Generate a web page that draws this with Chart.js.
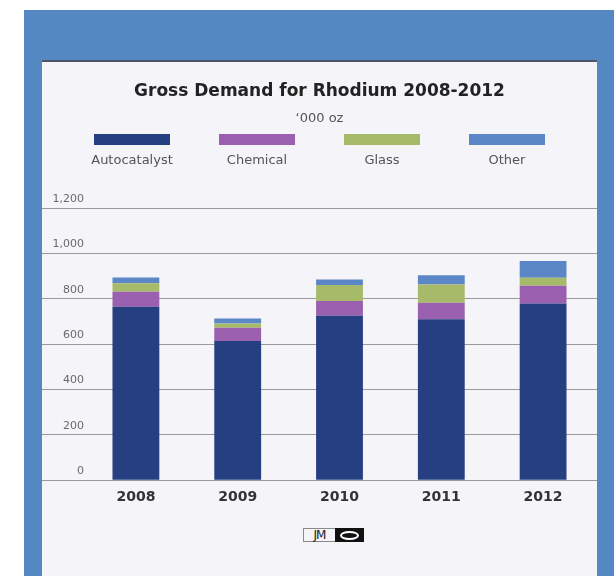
<!DOCTYPE html>
<html>
<head>
<meta charset="utf-8">
<script src="https://cdn.jsdelivr.net/npm/chart.js@4/dist/chart.umd.min.js"></script>
<style>
  html, body { margin: 0; padding: 0; background: #fff; }
  body { width: 614px; height: 576px; position: relative; overflow: hidden; }
  #frame { position: absolute; left: 24px; top: 10px; right: 0; bottom: 0; background: #5488c3; }
  #panel { position: absolute; left: 42px; top: 60px; width: 555px; height: 516px; background: #f4f4f9; }
  #panel::before { content: ''; position: absolute; left: 0; right: 0; top: 0; height: 2px; background: #4d5566; }
  #chart { position: absolute; left: 0; top: 0; }
  #logo { position: absolute; left: 261px; top: 468px; height: 14px; display: flex; }
  #logo .jm { box-sizing: border-box; width: 32px; height: 14px; border: 1px solid #8a8a8a; border-right: none;
              font: 12px 'DejaVu Sans', sans-serif; line-height: 12px; color: #222; text-align: center; letter-spacing: -1px; }
  #logo .mark { width: 29px; height: 14px; background: #111; display: flex; align-items: center; justify-content: center; }
  #logo .mark i { display: block; width: 19px; height: 9px; border: 2px solid #fff; border-radius: 50%; box-sizing: border-box; }
</style>
</head>
<body>
<div id="frame"></div>
<div id="panel">
  <canvas id="chart" width="555" height="460"></canvas>
  <div id="logo"><span class="jm">JM</span><span class="mark"><i></i></span></div>
</div>
<script>
// gross rhodium demand, '000 oz
const years = ['2008', '2009', '2010', '2011', '2012'];
const autocatalyst = [765, 614, 725, 710, 779];
const chemical = [66, 58, 65, 72, 78];
const glass = [37, 19, 70, 81, 35];
const other = [26, 22, 25, 41, 74];

const seriesNames = ['Autocatalyst', 'Chemical', 'Glass', 'Other'];
const seriesColors = ['#253f80', '#9a5fae', '#a6ba6a', '#5b87c6'];
const yTicks = [0, 200, 400, 600, 800, 1000, 1200];

const gridColor = '#9a9a9a';

// legend: wide colour strip with the name underneath
const stripLegend = {
    id: 'stripLegend',
    afterDraw(chart) {
        const ctx = chart.ctx;
        const mid = chart.width / 2;
        ctx.save();
        chart.data.datasets.forEach((ds, i) => {
            const cx = mid + (i - 1.5) * 125;
            ctx.fillStyle = ds.backgroundColor;
            ctx.fillRect(cx - 38, 74, 76, 11);
            ctx.fillStyle = '#555';
            ctx.font = '13px "DejaVu Sans"';
            ctx.textAlign = 'center';
            ctx.textBaseline = 'middle';
            ctx.fillText(ds.label, cx, 101);
        });
        ctx.restore();
    }
};

const values = [autocatalyst, chemical, glass, other];

new Chart(document.getElementById('chart'), {
    type: 'bar',
    data: {
        labels: years,
        datasets: seriesNames.map((name, i) => ({
            label: name,
            data: values[i],
            backgroundColor: seriesColors[i],
            borderWidth: 0,
            stack: 'demand',
            barPercentage: 0.46,
            categoryPercentage: 1
        }))
    },
    options: {
        responsive: false,
        animation: false,
        layout: { padding: { left: 0, right: 0, top: 0, bottom: 5 } },
        plugins: {
            legend: { display: false },
            tooltip: { enabled: false },
            title: {
                display: true,
                text: 'Gross Demand for Rhodium 2008-2012',
                color: '#222',
                font: { family: 'DejaVu Sans', size: 17, weight: 'bold', lineHeight: 1.2 },
                padding: { top: 21, bottom: 7 }
            },
            subtitle: {
                display: true,
                text: '\u2018000 oz',
                color: '#555',
                font: { family: 'DejaVu Sans', size: 13, lineHeight: 1.2 },
                padding: { top: 2, bottom: 82 }
            }
        },
        scales: {
            x: {
                stacked: true,
                grid: { display: false, drawTicks: false },
                border: { display: true, color: gridColor, width: 1 },
                ticks: {
                    color: '#333',
                    padding: 9,
                    font: { family: 'DejaVu Sans', size: 14, weight: 'bold', lineHeight: 1.2 }
                }
            },
            y: {
                stacked: true,
                min: 0,
                max: 1200,
                afterBuildTicks: (s) => { s.ticks = yTicks.map(v => ({ value: v })); },
                afterFit: (s) => { s.width = 43; },
                border: { display: false },
                grid: { color: gridColor, lineWidth: 1, tickLength: 43 },
                ticks: {
                    color: '#6a6a6a',
                    padding: -42,
                    labelOffset: -9,
                    font: { family: 'DejaVu Sans', size: 11 }
                }
            },
            yEdge: {
                position: 'right',
                min: 0,
                max: 1200,
                afterBuildTicks: (s) => { s.ticks = yTicks.map(v => ({ value: v })); },
                afterFit: (s) => { s.width = 3; },
                border: { display: false },
                grid: { color: gridColor, lineWidth: 1, drawOnChartArea: false, tickLength: 3 },
                ticks: { display: false }
            }
        }
    },
    plugins: [stripLegend]
});
</script>
</body>
</html>
